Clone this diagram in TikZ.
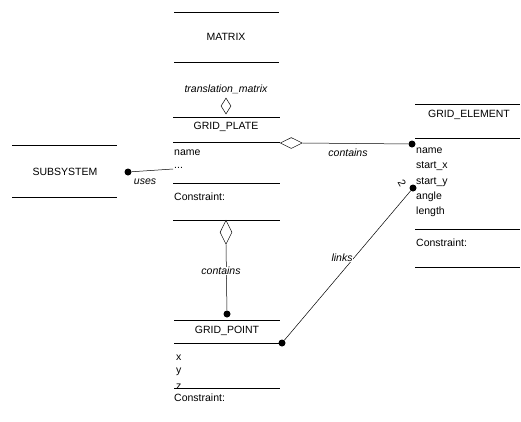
\documentclass[tikz,border=0pt]{standalone}
\usepackage{fontspec}
\setmainfont{Liberation Sans}
\usetikzlibrary{shapes.geometric}
\begin{document}
\begin{tikzpicture}[x=1pt,y=-1pt,
  every node/.style={font=\fontsize{10.5}{12}\selectfont, inner sep=1pt},
  rule/.style={line width=0.75pt},
  link/.style={line width=0.5pt},
  attr/.style={anchor=west},
  role/.style={font=\fontsize{10.5}{12}\selectfont\itshape},
  cut/.style={role, fill=white, inner sep=0.5pt},
  dot/.style={circle, fill=black, inner sep=0pt, minimum size=7pt},
  agg/.style={diamond, draw, line width=0.5pt, fill=white, inner sep=0pt, aspect=0.45, minimum width=12pt, minimum height=24pt},
  aggh/.style={diamond, draw, line width=0.5pt, fill=white, inner sep=0pt, aspect=2.1, minimum width=22pt, minimum height=11pt}]
\useasboundingbox (0,0) rectangle (521,421);

% MATRIX
\draw[rule] (174,12) -- (279,12) (174,62) -- (279,62);
\node (matrix) at (226,37) {MATRIX};
\node[role] (tm) at (226,89) {translation\_matrix};
\node[agg, minimum height=16pt, minimum width=10pt] (tmdia) at (226,106) {};

% GRID_PLATE
\draw[rule] (173,117) -- (280,117) (173,142) -- (280,142)
            (173,183) -- (280,183) (173,220) -- (280,220);
\node (gp) at (226,127) {GRID\_PLATE};
\node[attr] (gpname) at (173,153) {name};
\node[attr] (gpdots) at (173,168) {...};
\node[attr] (gpcons) at (173,197) {Constraint:};
\coordinate (gpright) at (280,143);
\coordinate (gpleft) at (173,169);
\coordinate (gpbot) at (226,220);

% SUBSYSTEM
\draw[rule] (12,145) -- (117,145) (12,197) -- (117,197);
\node (sub) at (65,172) {SUBSYSTEM};
\node[dot] (subdot) at (128,172) {};
\draw[link] (subdot) -- (gpleft);
\node[role] (uses) at (145,182) {uses};

% GRID_ELEMENT
\draw[rule] (415,104) -- (520,104) (415,138) -- (520,138)
            (415,229) -- (520,229) (415,267) -- (520,267);
\node (ge) at (469,115) {GRID\_ELEMENT};
\node[attr] (gename) at (415,151) {name};
\node[attr] (gesx) at (415,166.5) {start\_x};
\node[attr] (gesy) at (415,182) {start\_y};
\node[attr] (geang) at (415,197) {angle};
\node[attr] (gelen) at (415,212) {length};
\node[attr] (gecons) at (415,243) {Constraint:};
\node[dot] (gedot1) at (412,144) {};
\node[dot] (gedot2) at (413,188) {};
\node[rotate=-60] (two) at (402,183) {2};

% GRID_PLATE contains GRID_ELEMENT
\node[aggh, anchor=west] (gpdia) at (gpright) {};
\draw[link] (gpdia.east) -- (gedot1);
\node[role] (contains1) at (348,153) {contains};

% GRID_POINT (the last attribute sits on the separator rule)
\node[attr] (ptx) at (175,358) {x};
\node[attr] (pty) at (175,372) {y};
\node[attr] (ptz) at (175,387) {z};
\draw[rule] (174,320) -- (280,320) (174,343) -- (280,343) (174,388) -- (280,388);
\node (gpt) at (227,331) {GRID\_POINT};
\node[attr] (ptcons) at (173,398) {Constraint:};
\node[dot] (ptdot1) at (227,314) {};
\node[dot] (ptdot2) at (282,343) {};

% GRID_PLATE contains GRID_POINT
\node[agg, anchor=north] (ptdia) at (gpbot) {};
\draw[link] (ptdia.south) -- (ptdot1);
\node[cut] (contains2) at (221,271) {contains};

% GRID_POINT links GRID_ELEMENT
\draw[link] (ptdot2) -- (gedot2);
\node[cut] (links) at (342,258) {links};
\end{tikzpicture}
\end{document}
